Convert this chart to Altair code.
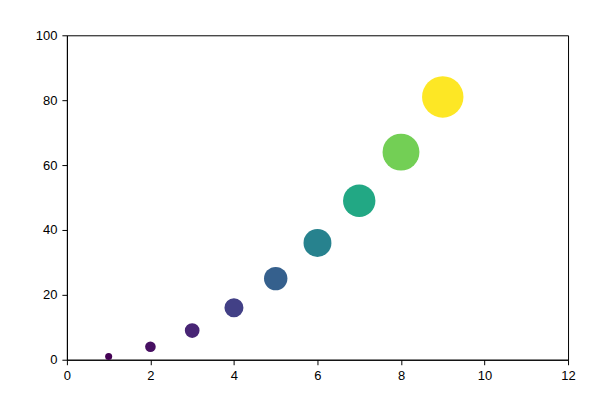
import altair as alt
import pandas as pd

xs = [1, 2, 3, 4, 5, 6, 7, 8, 9]
ys = [1, 4, 9, 16, 25, 36, 49, 64, 81]

df = pd.DataFrame({"x": xs, "y": ys})

axis_common = dict(
    grid=False, domainColor="black", tickColor="black", labelColor="black",
    tickSize=5, labelFont="Liberation Sans", labelFontSize=13, labelPadding=5,
    domainWidth=1, tickWidth=1, title=None, labelFlush=False,
)

chart = alt.Chart(df).mark_circle(opacity=1).encode(
    x=alt.X("x:Q", scale=alt.Scale(domain=[0, 12], nice=False),
            axis=alt.Axis(values=[0, 2, 4, 6, 8, 10, 12], **axis_common)),
    y=alt.Y("y:Q", scale=alt.Scale(domain=[0, 100], nice=False),
            axis=alt.Axis(values=[0, 20, 40, 60, 80, 100], **axis_common)),
    size=alt.Size("y:Q", scale=alt.Scale(type="linear", domain=[1, 81], range=[50, 1720], zero=False), legend=None),
    color=alt.Color("y:Q", scale=alt.Scale(scheme="viridis", domain=[1, 81]), legend=None),
).properties(
    width=502, height=325,
    autosize=alt.AutoSizeParams(type="none"),
    padding={"left": 59, "top": 27, "right": 20, "bottom": 40},
).configure_view(stroke="black", strokeWidth=1)

chart.save("out.html", embed_options={"renderer": "svg", "actions": False})
